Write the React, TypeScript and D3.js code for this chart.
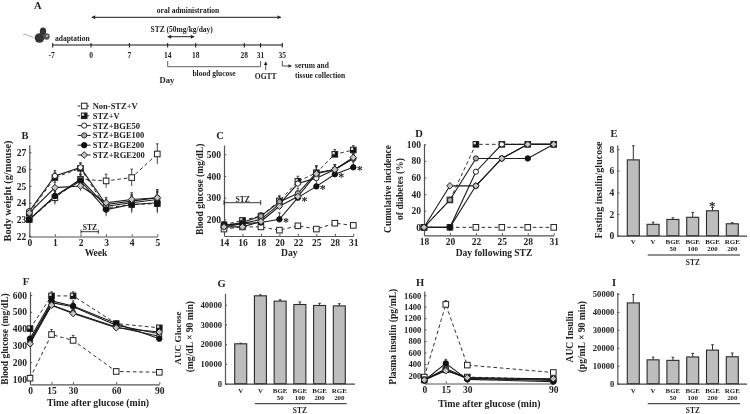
import * as d3 from "d3"
import { useRef, useEffect } from "react"

const FONT = "'Liberation Serif', serif"
const INK = "#222"

// panel A
const timelineDays = [-7, 0, 7, 14, 18, 28, 31, 35]

// panel B: body weight
const weeks = [0, 1, 2, 3, 4, 5]
const weightNonStz = [23.0, 24.3, 25.4, 25.3, 25.5, 26.9]
const weightStzV = [23.4, 25.5, 26.05, 23.7, 23.9, 23.95]
const weightBge50 = [23.5, 25.6, 26.1, 23.9, 24.1, 24.3]
const weightBge100 = [23.0, 24.4, 25.4, 23.8, 24.0, 24.2]
const weightBge200 = [23.0, 24.4, 25.3, 23.6, 23.9, 24.0]
const weightRge200 = [23.4, 24.9, 25.0, 24.0, 24.2, 24.3]
const weightErr = [0.2, 0.4, 0.35, 0.4, 0.5, 0.6]

// panel C: blood glucose
const glucoseDays = ["14", "16", "18", "20", "22", "25", "28", "31"]
const glucoseNonStz = [155, 165, 165, 150, 170, 155, 182, 172]
const glucoseStzV = [175, 195, 215, 285, 375, 415, 500, 520]
const glucoseBge50 = [165, 180, 200, 270, 365, 390, 430, 480]
const glucoseBge100 = [170, 185, 215, 280, 320, 415, 430, 480]
const glucoseBge200 = [175, 180, 185, 200, 300, 352, 408, 440]
const glucoseRge200 = [165, 165, 190, 260, 305, 410, 430, 485]
const glucoseErr = [12, 12, 18, 30, 30, 40, 28, 25]
const glucoseStars = [3, 4, 5, 6, 7]

// panel D: incidence
const incidenceDays = ["18", "20", "22", "25", "28", "31"]
const incidenceNonStz = [0, 0, 0, 0, 0, 0]
const incidenceStzV = [0, 33, 100, 100, 100, 100]
const incidenceBge50 = [0, 0, 67, 100, 100, 100]
const incidenceBge100 = [0, 33, 83, 83, 100, 100]
const incidenceBge200 = [0, 0, 50, 83, 83, 100]
const incidenceRge200 = [0, 50, 50, 83, 100, 100]

// panel F: OGTT
const ogttMinutes = [0, 15, 30, 60, 90]
const ogttNonStz = [105, 365, 330, 145, 140]
const ogttStzV = [400, 595, 595, 430, 405]
const ogttBge50 = [320, 555, 530, 420, 370]
const ogttBge100 = [330, 540, 495, 410, 355]
const ogttBge200 = [340, 565, 535, 430, 340]
const ogttRge200 = [310, 540, 490, 405, 380]
const ogttErr = [15, 30, 30, 15, 15]

// panel H: plasma insulin
const insulinMinutes = [0, 15, 30, 90]
const insulinNonStz = [170, 1440, 380, 250]
const insulinStzV = [120, 300, 170, 130]
const insulinBge50 = [110, 320, 150, 110]
const insulinBge100 = [130, 300, 140, 130]
const insulinBge200 = [110, 410, 130, 90]
const insulinRge200 = [120, 280, 160, 140]
const insulinErr = [20, 70, 30, 30]

// bar panels
const barTop = ["V", "V", "BGE", "BGE", "BGE", "RGE"]
const barBottom = ["", "", "50", "100", "200", "200"]
const fastingValues = [7.0, 1.05, 1.5, 1.7, 2.3, 1.1]
const fastingErr = [1.3, 0.2, 0.15, 0.45, 0.3, 0.1]
const aucGlucoseValues = [20200, 44500, 41800, 40100, 39600, 39400]
const aucGlucoseErr = [300, 500, 700, 1300, 1100, 1100]
const aucInsulinValues = [45000, 13300, 13000, 14900, 18700, 15000]
const aucInsulinErr = [4700, 1500, 1700, 2000, 3000, 2100]

const legendNames = ["Non-STZ+V", "STZ+V", "STZ+BGE50", "STZ+BGE100", "STZ+BGE200", "STZ+RGE200"]
const dashedSeries = [true, true, false, false, false, false]

function T({ x, y, size = 9.5, anchor = "middle", rotate, children, fill = INK }: any) {
  return (
    <text
      x={x}
      y={y}
      fontSize={size}
      textAnchor={anchor}
      dominantBaseline="central"
      fontWeight="bold"
      fontFamily={FONT}
      fill={fill}
      transform={rotate ? `rotate(${rotate} ${x} ${y})` : undefined}
    >
      {children}
    </text>
  )
}

function Marker({ kind, x, y }: { kind: number; x: number; y: number }) {
  const sw = 1
  if (kind === 0) return <rect x={x - 2.8} y={y - 2.8} width={5.6} height={5.6} fill="#fff" stroke={INK} strokeWidth={sw} />
  if (kind === 1)
    return (
      <g>
        <rect x={x - 2.8} y={y - 2.8} width={5.6} height={5.6} fill="#111" stroke={INK} strokeWidth={sw} />
        <rect x={x - 2.3} y={y - 2.3} width={2.3} height={2.3} fill="#ddd" />
      </g>
    )
  if (kind === 2) return <circle cx={x} cy={y} r={2.6} fill="#fff" stroke={INK} strokeWidth={sw} />
  if (kind === 3) return <circle cx={x} cy={y} r={2.6} fill="#aaa" stroke={INK} strokeWidth={sw} />
  if (kind === 4) return <circle cx={x} cy={y} r={2.7} fill="#111" stroke="#111" strokeWidth={sw} />
  return <path d={`M${x - 3.3},${y}L${x},${y - 3.3}L${x + 3.3},${y}L${x},${y + 3.3}Z`} fill="#c4c4c4" stroke={INK} strokeWidth={sw} />
}

function Axis({ scale, side, at, values, size = 9.5, pad = 3 }: any) {
  const ref = useRef<SVGGElement>(null)
  useEffect(() => {
    const axis = (side === "left" ? d3.axisLeft(scale) : d3.axisBottom(scale)) as any
    axis.tickSizeOuter(0).tickSizeInner(-2.2).tickPadding(pad).tickFormat((d: any) => String(d))
    if (values) axis.tickValues(values)
    const g = d3.select(ref.current!)
    g.call(axis)
    g.selectAll("path").attr("stroke", "#555").attr("stroke-width", 1.2)
    g.selectAll("line").attr("stroke", "#555").attr("stroke-width", 1)
    g.selectAll("text")
      .attr("font-size", size)
      .attr("font-weight", "bold")
      .attr("font-family", FONT)
      .attr("fill", INK)
  }, [])
  return <g ref={ref} transform={side === "left" ? `translate(${at},0)` : `translate(0,${at})`} />
}

function Lines({ x, y, series, err, errBoth = false, controlErr = 1 }: any) {
  const line = d3
    .line<number>()
    .x((_, i) => x(i))
    .y((d) => y(d))
  return (
    <g>
      {series.map((values: number[], s: number) => (
        <path
          key={s}
          d={line(values) ?? undefined}
          fill="none"
          stroke="#1a1a1a"
          strokeWidth={dashedSeries[s] ? 0.9 : 1.1}
          strokeDasharray={dashedSeries[s] ? "3.6 2.8" : undefined}
        />
      ))}
      {err &&
        series.map((values: number[], s: number) =>
          values.map((v, i) => {
            const e = err[i] * (s === 0 ? controlErr : s === 4 ? 1 : 0.8)
            return (
              <g key={`${s}-${i}`} stroke="#333" strokeWidth={0.9}>
                <line x1={x(i)} x2={x(i)} y1={y(errBoth ? v - e : v)} y2={y(v + e)} />
                <line x1={x(i) - 1.3} x2={x(i) + 1.3} y1={y(v + e)} y2={y(v + e)} />
              </g>
            )
          }),
        )}
      {series.map((values: number[], s: number) =>
        values.map((v, i) => <Marker key={`${s}-${i}`} kind={s} x={x(i)} y={y(v)} />),
      )}
    </g>
  )
}

function Bars({ values, err, y, left, right, axisX, axisEnd, labelY, ruleY, ruleFrom, ruleTo, ticks, size = 9.5 }: any) {
  const x = d3.scalePoint<number>(d3.range(values.length), [left, right])
  const base = y(0)
  return (
    <g>
      {values.map((v: number, i: number) => (
        <g key={i}>
          <line x1={x(i)} x2={x(i)} y1={y(v)} y2={y(v + err[i])} stroke="#333" strokeWidth={1} />
          <line x1={x(i)! - 1.3} x2={x(i)! + 1.3} y1={y(v + err[i])} y2={y(v + err[i])} stroke="#333" strokeWidth={1} />
          <rect x={x(i)! - 6} y={y(v)} width={12} height={base - y(v)} fill="#bdbdbd" stroke="#2a2a2a" strokeWidth={1.1} />
          <T x={x(i)} y={labelY} size={6.9}>{barTop[i]}</T>
          <T x={x(i)} y={labelY + 7} size={6.9}>{barBottom[i]}</T>
        </g>
      ))}
      <Axis scale={y} side="left" at={axisX} values={ticks} size={size} />
      <line x1={axisX} x2={axisEnd} y1={base + 0.5} y2={base + 0.5} stroke="#444" strokeWidth={1.2} />
      <line x1={ruleFrom} x2={ruleTo} y1={ruleY} y2={ruleY} stroke="#222" strokeWidth={1} />
      <T x={(ruleFrom + ruleTo) / 2 - 1} y={ruleY + 7.2} size={7.4}>STZ</T>
    </g>
  )
}

function Arrow({ x1, x2, y, both = true }: { x1: number; x2: number; y: number; both?: boolean }) {
  return (
    <g fill="#222" stroke="none">
      <line x1={x1} x2={x2} y1={y} y2={y} stroke="#222" strokeWidth={1} />
      {both && <path d={`M${x1},${y}l3.5,-2v4Z`} />}
      <path d={`M${x2},${y}l-3.5,-2v4Z`} />
    </g>
  )
}

function Timeline() {
  const x = d3.scaleLinear([-7, 14, 18, 28, 35], [52.7, 167.7, 195.7, 244.3, 282.3])
  return (
    <g>
      <T x={37.7} y={5} size={10.5}>A</T>
      <T x={188} y={10.3} size={7.5}>oral administration</T>
      <Arrow x1={91.7} x2={281} y={17.3} />
      <T x={181.7} y={29.3} size={7.5}>STZ (50mg/kg/day)</T>
      <Arrow x1={167.7} x2={194.3} y={36.7} />
      <T x={55} y={38.3} size={7.5} anchor="start">adaptation</T>
      {/* mouse */}
      <path d="M23,35q3,-1.5 4.5,0t3,1t3,2" fill="none" stroke="#888" strokeWidth={0.7} />
      <ellipse cx={39.5} cy={38} rx={4.8} ry={4.8} fill="#333" />
      <ellipse cx={43} cy={31.5} rx={3.2} ry={4} fill="#333" />
      <ellipse cx={46.5} cy={36.5} rx={3.2} ry={3.2} fill="#555" />
      <circle cx={47} cy={36} r={1} fill="#ccc" />
      <line x1={x(-7)} x2={x(35)} y1={45} y2={45} stroke="#111" strokeWidth={1.2} />
      {timelineDays.map((d) => (
        <g key={d}>
          <line x1={x(d)} x2={x(d)} y1={43} y2={47.5} stroke="#111" strokeWidth={1} />
          <T x={x(d) - (d === -7 ? 1 : 0)} y={55} size={7.5}>{d}</T>
        </g>
      ))}
      <path d={`M${x(14)},61V66.7H${x(31)}V61`} fill="none" stroke="#333" strokeWidth={0.8} />
      <T x={214} y={73.3} size={7.5}>blood glucose</T>
      <T x={167} y={79.5} size={8.6}>Day</T>
      <T x={265.7} y={76} size={7.6}>OGTT</T>
      <line x1={265.7} x2={265.7} y1={70} y2={63} stroke="#222" strokeWidth={0.8} />
      <path d="M265.7,61.5l-1.8,3.5h3.6Z" fill="#222" />
      <path d={`M${x(35)},61V66H289`} fill="none" stroke="#222" strokeWidth={0.8} />
      <path d="M292,66l-3.5,-1.8v3.6Z" fill="#222" />
      <T x={295} y={65.7} size={7.5} anchor="start">serum and</T>
      <T x={295} y={75} size={7.5} anchor="start">tissue collection</T>
    </g>
  )
}

function Legend() {
  const rows = d3.scalePoint<number>(d3.range(legendNames.length), [106, 155])
  return (
    <g>
      {legendNames.map((name, i) => (
        <g key={name}>
          <line
            x1={77.7}
            x2={90.7}
            y1={rows(i)}
            y2={rows(i)}
            stroke="#222"
            strokeWidth={1}
            strokeDasharray={dashedSeries[i] ? "2.4 6.6" : undefined}
          />
          <Marker kind={i} x={84.2} y={rows(i)!} />
          <T x={92.7} y={rows(i)} size={8.5} anchor="start">{name}</T>
        </g>
      ))}
    </g>
  )
}

function PanelB() {
  const y = d3.scaleLinear([22, 27.45], [236.5, 144.7])
  const xs = d3.scaleLinear([0, 5], [29.3, 157.3])
  const series = [weightNonStz, weightStzV, weightBge50, weightBge100, weightBge200, weightRge200]
  return (
    <g>
      <T x={25} y={135.7} size={10.5}>B</T>
      <Axis scale={y} side="left" at={29.3} values={[22, 23, 24, 25, 26, 27]} />
      <Axis scale={xs} side="bottom" at={236.5} values={weeks} />
      <Lines x={(i: number) => xs(weeks[i])} y={y} series={series} err={weightErr} errBoth />
      <T x={7} y={191} size={10.4} rotate={-90}>Body weight (g/mouse)</T>
      <T x={96} y={252.7} size={9.5}>Week</T>
      <line x1={81} x2={98.3} y1={231.7} y2={231.7} stroke="#222" strokeWidth={0.9} />
      <line x1={81} x2={81} y1={229.7} y2={233.7} stroke="#222" strokeWidth={0.9} />
      <line x1={98.3} x2={98.3} y1={229.7} y2={233.7} stroke="#222" strokeWidth={0.9} />
      <T x={90} y={227.3} size={7.6}>STZ</T>
    </g>
  )
}

function PanelC() {
  const y = d3.scaleLinear([123, 543], [236, 145])
  const xs = d3.scalePoint(glucoseDays, [224, 353.3])
  const series = [glucoseNonStz, glucoseStzV, glucoseBge50, glucoseBge100, glucoseBge200, glucoseRge200]
  const xi = (i: number) => xs(glucoseDays[i])!
  return (
    <g>
      <T x={220} y={135.7} size={10.5}>C</T>
      <Axis scale={y} side="left" at={224} values={[200, 300, 400, 500]} />
      <Axis scale={xs} side="bottom" at={236} />
      <Lines x={xi} y={y} series={series} err={glucoseErr} controlErr={0.2} />
      {glucoseStars.map((i) => (
        <T key={i} x={xi(i) + 6.5} y={y(glucoseBge200[i]) + 3} size={12}>*</T>
      ))}
      <T x={200} y={189.3} size={9.5} rotate={-90}>Blood glucose (mg/dL)</T>
      <T x={289.3} y={252.7} size={9.5}>Day</T>
      <line x1={224} x2={260.7} y1={202.7} y2={202.7} stroke="#222" strokeWidth={0.9} />
      <line x1={224} x2={224} y1={200.2} y2={205.2} stroke="#222" strokeWidth={0.9} />
      <line x1={260.7} x2={260.7} y1={200.2} y2={205.2} stroke="#222" strokeWidth={0.9} />
      <T x={242.7} y={199} size={7.6}>STZ</T>
    </g>
  )
}

function PanelD() {
  const y = d3.scaleLinear([-9.6, 100.4], [235.3, 144])
  const xs = d3.scalePoint(incidenceDays, [424, 553.7])
  const series = [incidenceNonStz, incidenceStzV, incidenceBge50, incidenceBge100, incidenceBge200, incidenceRge200]
  return (
    <g>
      <T x={419} y={133} size={10.5}>D</T>
      <Axis scale={y} side="left" at={424} values={[0, 20, 40, 60, 80, 100]} />
      <Axis scale={xs} side="bottom" at={235.3} />
      <Lines x={(i: number) => xs(incidenceDays[i])!} y={y} series={series} />
      <T x={388} y={189} size={9.5} rotate={-90}>Cumulative incidence</T>
      <T x={400} y={189} size={9.5} rotate={-90}>of diabetes (%)</T>
      <T x={494} y={253.3} size={9.5}>Day following STZ</T>
    </g>
  )
}

function PanelE() {
  const y = d3.scaleLinear([0, 8.4], [235.7, 144.7])
  return (
    <g>
      <T x={614} y={133} size={10.5}>E</T>
      <Bars values={fastingValues} err={fastingErr} y={y} left={633.3} right={732.3} axisX={617.3} axisEnd={747}
        labelY={241.7} ruleY={255} ruleFrom={647.7} ruleTo={740} ticks={[0, 2, 4, 6, 8]} />
      <T x={712.3} y={205} size={13}>*</T>
      <T x={598} y={190} size={10} rotate={-90}>Fasting insulin/glucose</T>
    </g>
  )
}

function PanelF() {
  const y = d3.scaleLinear([68.5, 620], [384.3, 291.7])
  const xs = d3.scaleLinear([0, 90], [30, 159.3])
  const series = [ogttNonStz, ogttStzV, ogttBge50, ogttBge100, ogttBge200, ogttRge200]
  return (
    <g>
      <T x={26} y={281.7} size={10.5}>F</T>
      <Axis scale={y} side="left" at={30} values={[100, 200, 300, 400, 500, 600]} />
      <Axis scale={xs} side="bottom" at={384.3} values={ogttMinutes} />
      <Lines x={(i: number) => xs(ogttMinutes[i])} y={y} series={series} err={ogttErr} />
      <T x={5} y={339} size={9.5} rotate={-90}>Blood glucose (mg/dL)</T>
      <T x={98} y={402} size={9.8}>Time after glucose (min)</T>
    </g>
  )
}

function PanelG() {
  const y = d3.scaleLinear([0, 45770], [383.7, 293.3])
  return (
    <g>
      <T x={221.7} y={283} size={10.5}>G</T>
      <Bars values={aucGlucoseValues} err={aucGlucoseErr} y={y} left={240.7} right={339.3} axisX={225} axisEnd={355}
        labelY={390} ruleY={403.7} ruleFrom={255} ruleTo={346.7} ticks={[0, 10000, 20000, 30000, 40000]} size={8.6} />
      <T x={178} y={338} size={9.2} rotate={-90}>AUC Glucose</T>
      <T x={190} y={336.7} size={9.6} rotate={-90}>(mg/dL × 90 min)</T>
    </g>
  )
}

function PanelH() {
  const y = d3.scaleLinear([58, 1674], [383.5, 291])
  const xs = d3.scaleLinear([0, 90], [424.3, 553.3])
  const series = [insulinNonStz, insulinStzV, insulinBge50, insulinBge100, insulinBge200, insulinRge200]
  return (
    <g>
      <T x={420} y={282} size={10.5}>H</T>
      <Axis scale={y} side="left" at={424.3} values={[200, 400, 600, 800, 1000, 1200, 1400, 1600]} size={8.6} />
      <Axis scale={xs} side="bottom" at={383.5} values={insulinMinutes} />
      <Lines x={(i: number) => xs(insulinMinutes[i])} y={y} series={series} err={insulinErr} />
      <T x={392.7} y={336.7} size={9.6} rotate={-90}>Plasma insulin (pg/mL)</T>
      <T x={489.3} y={403} size={9.8}>Time after glucose (min)</T>
    </g>
  )
}

function PanelI() {
  const y = d3.scaleLinear([0, 50800], [383.7, 292.5])
  return (
    <g>
      <T x={614} y={282} size={10.5}>I</T>
      <Bars values={aucInsulinValues} err={aucInsulinErr} y={y} left={633.3} right={732.3} axisX={617.3} axisEnd={747}
        labelY={390} ruleY={403.7} ruleFrom={647.7} ruleTo={740} ticks={[0, 10000, 20000, 30000, 40000, 50000]} size={8.6} />
      <T x={570} y={336.7} size={9.5} rotate={-90}>AUC Insulin</T>
      <T x={581.7} y={336.7} size={9.6} rotate={-90}>(pg/mL × 90 min)</T>
    </g>
  )
}

export default function App() {
  return (
    <svg
      width={750}
      height={414}
      style={{ position: "absolute", left: 0, top: 0, background: "#fff", filter: "blur(0.3px)" }}
    >
      <Timeline />
      <Legend />
      <PanelB />
      <PanelC />
      <PanelD />
      <PanelE />
      <PanelF />
      <PanelG />
      <PanelH />
      <PanelI />
    </svg>
  )
}
